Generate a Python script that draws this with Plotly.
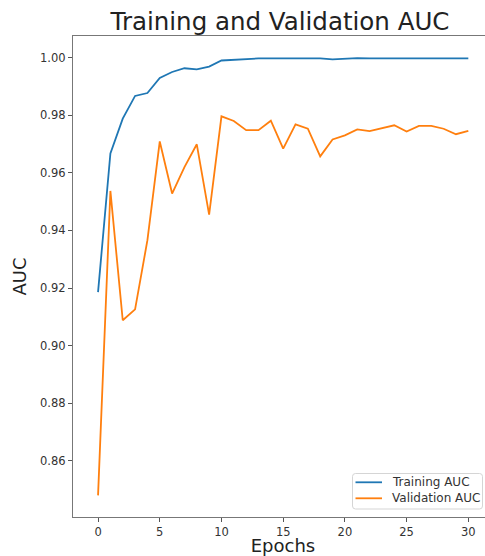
import plotly.graph_objects as go

epochs = list(range(31))
train_auc = [0.9186, 0.9667, 0.9788, 0.9867, 0.9877, 0.9929, 0.9950, 0.9963, 0.9959, 0.9969,
             0.9990, 0.9993, 0.9995, 0.9997, 0.9997, 0.9996, 0.9997, 0.9997, 0.9997, 0.9994,
             0.9997, 0.9998, 0.9997, 0.9997, 0.9996, 0.9997, 0.9998, 0.9997, 0.9998, 0.9997, 0.9997]
val_auc = [0.8480, 0.9537, 0.9088, 0.9126, 0.9366, 0.9709, 0.9528, 0.9620, 0.9699, 0.9455,
           0.9796, 0.9780, 0.9748, 0.9748, 0.9781, 0.9684, 0.9768, 0.9753, 0.9657, 0.9716,
           0.9730, 0.9751, 0.9745, 0.9755, 0.9765, 0.9743, 0.9763, 0.9763, 0.9753, 0.9734, 0.9746]
series_names = ["Training AUC", "Validation AUC"]
series_colors = ["#1f77b4", "#ff7f0e"]
y_ticks = [0.86, 0.88, 0.90, 0.92, 0.94, 0.96, 0.98, 1.00]
x_ticks = [0, 5, 10, 15, 20, 25, 30]

W, H = 493, 556  # axes extend slightly past the visible 485 px window, as in the reference
L, T, B = 73, 36, 39
font_family = "DejaVu Sans"

fig = go.Figure()
for name, vals, col in zip(series_names, [train_auc, val_auc], series_colors):
    fig.add_trace(go.Scatter(x=epochs, y=vals, mode="lines", name=name,
                             line=dict(color=col, width=1.8), showlegend=False))


def px_x(p):
    return (p - L) / (W - L)


def px_y(p):
    return (H - B - p) / (H - B - T)


# hand-drawn legend box (matplotlib style, lower right)
bx0, bx1, by0, by1, r = 352.5, 482.5, 473.5, 509, 3
path = (f"M{px_x(bx0 + r)},{px_y(by0)} L{px_x(bx1 - r)},{px_y(by0)} "
        f"Q{px_x(bx1)},{px_y(by0)} {px_x(bx1)},{px_y(by0 + r)} "
        f"L{px_x(bx1)},{px_y(by1 - r)} Q{px_x(bx1)},{px_y(by1)} {px_x(bx1 - r)},{px_y(by1)} "
        f"L{px_x(bx0 + r)},{px_y(by1)} Q{px_x(bx0)},{px_y(by1)} {px_x(bx0)},{px_y(by1 - r)} "
        f"L{px_x(bx0)},{px_y(by0 + r)} Q{px_x(bx0)},{px_y(by0)} {px_x(bx0 + r)},{px_y(by0)} Z")
shapes = [dict(type="path", path=path, xref="paper", yref="paper",
               fillcolor="rgba(255,255,255,0.85)", line=dict(color="#d5d5d5", width=1))]
annotations = []
row_y = [482.3, 498.3]
for name, col, ry in zip(series_names, series_colors, row_y):
    shapes.append(dict(type="line", xref="paper", yref="paper",
                       x0=px_x(355.5), x1=px_x(382), y0=px_y(ry), y1=px_y(ry),
                       line=dict(color=col, width=1.8)))
    annotations.append(dict(text=name, xref="paper", yref="paper", x=px_x(390), y=px_y(ry),
                            xanchor="left", yanchor="middle", showarrow=False,
                            font=dict(size=12.0, family=font_family, color="#333333")))

fig.update_layout(
    width=W, height=H,
    margin=dict(l=L, r=0, t=T, b=B, autoexpand=False),
    paper_bgcolor="white", plot_bgcolor="white",
    font=dict(family=font_family, color="#333333"),
    title=dict(text="Training and Validation AUC", x=280 / W, xanchor="center",
               y=1 - 21 / H, yanchor="middle",
               font=dict(size=24.5, family=font_family, color="#222222")),
    showlegend=False,
    shapes=shapes,
    annotations=annotations,
)
fig.update_xaxes(
    range=[-2.03, 32.0], tickmode="array", tickvals=x_ticks,
    ticks="outside", ticklen=4, tickcolor="#555555", tickwidth=1,
    showline=True, linecolor="#777777", linewidth=1.2, mirror=True,
    showgrid=False, zeroline=False, automargin=False,
    tickfont=dict(size=11.5, family=font_family, color="#333333"),
    title=dict(text="Epochs", font=dict(size=18, family=font_family, color="#222222"), standoff=3),
)
fig.update_yaxes(
    range=[0.8405, 1.0075], tickmode="array", tickvals=y_ticks,
    tickformat=".2f",
    ticks="outside", ticklen=4, tickcolor="#555555", tickwidth=1,
    showline=True, linecolor="#777777", linewidth=1.2, mirror=False,
    showgrid=False, zeroline=False, automargin=False,
    tickfont=dict(size=11.5, family=font_family, color="#333333"),
    title=dict(text="AUC", font=dict(size=18, family=font_family, color="#222222"), standoff=8),
)

fig.write_html(
    "out.html",
    config={"displayModeBar": False},
    post_script="document.body.style.margin='0px';document.body.style.overflow='hidden';",
)
